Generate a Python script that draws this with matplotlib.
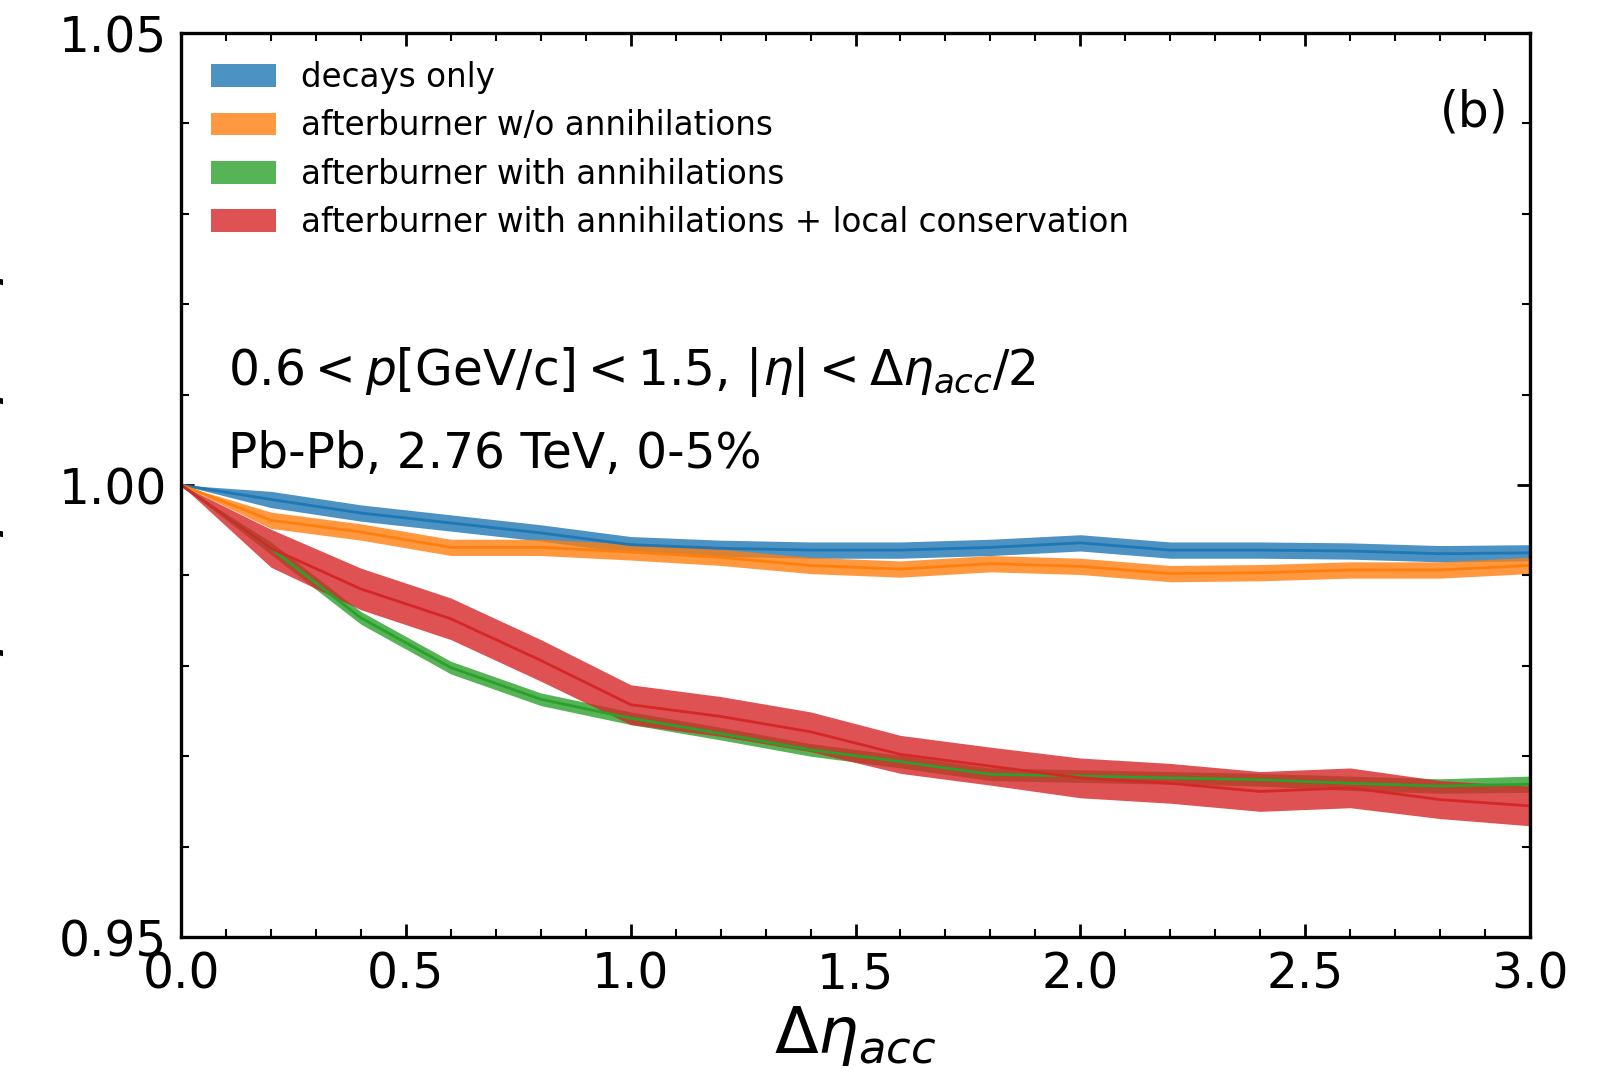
import numpy as np
import matplotlib.pyplot as plt
from matplotlib.ticker import MultipleLocator

# acceptance windows
eta_acc = [0.0, 0.2, 0.4, 0.6, 0.8, 1.0, 1.2, 1.4, 1.6, 1.8, 2.0, 2.2, 2.4, 2.6, 2.8, 3.0]

decays_only = [1.0, 0.9984, 0.9969, 0.9958, 0.9947, 0.9934, 0.9930, 0.9928,
               0.9928, 0.9931, 0.9936, 0.9928, 0.9928, 0.9927, 0.9924, 0.9925]
decays_only_err = [0.0, 0.0009, 0.0009, 0.0009, 0.0009, 0.0009, 0.0009, 0.0009,
                   0.0009, 0.0009, 0.0009, 0.0009, 0.0009, 0.0009, 0.0009, 0.0009]

no_annih = [1.0, 0.9961, 0.9948, 0.9931, 0.9931, 0.9926, 0.9920, 0.9911,
            0.9907, 0.9913, 0.9910, 0.9902, 0.9903, 0.9906, 0.9906, 0.9911]
no_annih_err = [0.0, 0.0009, 0.0009, 0.0009, 0.0009, 0.0009, 0.0009, 0.0009,
                0.0009, 0.0009, 0.0009, 0.0009, 0.0009, 0.0009, 0.0009, 0.0009]

with_annih = [1.0, 0.9930, 0.9853, 0.9798, 0.9763, 0.9742, 0.9725, 0.9707,
              0.9694, 0.9680, 0.9678, 0.9676, 0.9674, 0.9670, 0.9667, 0.9669]
with_annih_err = [0.0, 0.0007, 0.0007, 0.0007, 0.0007, 0.0007, 0.0007, 0.0007,
                  0.0007, 0.0007, 0.0007, 0.0007, 0.0007, 0.0008, 0.0008, 0.0009]

local_cons = [1.0, 0.9930, 0.9885, 0.9852, 0.9806, 0.9757, 0.9744, 0.9727,
              0.9702, 0.9689, 0.9676, 0.9670, 0.9661, 0.9665, 0.9652, 0.9645]
local_cons_err = [0.0, 0.0021, 0.0023, 0.0023, 0.0023, 0.0022, 0.0022, 0.0022,
                  0.0021, 0.0021, 0.0022, 0.0022, 0.0022, 0.0022, 0.0021, 0.0022]

labels = ['decays only', 'afterburner w/o annihilations',
          'afterburner with annihilations',
          'afterburner with annihilations + local conservation']
colors = ['tab:blue', 'tab:orange', 'tab:green', 'tab:red']

fig = plt.figure(figsize=(16.24, 10.79), dpi=100)
ax = fig.add_axes([0.1115, 0.1316, 0.8306, 0.8378])

x = np.array(eta_acc)
curves = [(decays_only, decays_only_err), (no_annih, no_annih_err),
          (with_annih, with_annih_err), (local_cons, local_cons_err)]

for (vals, err), col, lab in zip(curves, colors, labels):
    v = np.array(vals)
    e = np.array(err)
    ax.fill_between(x, v - e, v + e, color=col, alpha=0.8, lw=0, label=lab)
for (vals, err), col in zip(curves, colors):
    ax.plot(x, vals, color=col, lw=2)

ax.set_xlim(0, 3.0)
ax.set_ylim(0.95, 1.05)
ax.xaxis.set_major_locator(MultipleLocator(0.5))
ax.xaxis.set_minor_locator(MultipleLocator(0.1))
ax.yaxis.set_major_locator(MultipleLocator(0.05))
ax.yaxis.set_minor_locator(MultipleLocator(0.01))
ax.tick_params(which='both', direction='in', top=True, right=True, labelsize=35, pad=10)
ax.tick_params(which='major', length=9.5, width=2)
ax.tick_params(which='minor', length=5.5, width=1.5)
for s in ax.spines.values():
    s.set_linewidth(2.4)

ax.set_xlabel(r'$\Delta\eta_{acc}$', fontsize=46, labelpad=4)
# the big y label sits mostly outside the canvas, as in the original
ax.set_ylabel(r'$\kappa_2[p-\bar{p}]\,/\,\langle p+\bar{p}\rangle$', fontsize=46)
ax.yaxis.set_label_coords(-0.1295, 0.5)

ax.legend(loc='upper left', bbox_to_anchor=(0.022, 0.969), frameon=False,
          fontsize=23.5, borderpad=0, borderaxespad=0, handlelength=2.0,
          handletextpad=0.75, labelspacing=0.47)

ax.text(0.035, 0.6106, r'$0.6 < p[\mathrm{GeV/c}] < 1.5$, $|\eta| < \Delta\eta_{acc}/2$',
        transform=ax.transAxes, fontsize=35, va='baseline')
ax.text(0.035, 0.5188, 'Pb-Pb, 2.76 TeV, 0-5%', transform=ax.transAxes,
        fontsize=35, va='baseline')
ax.text(0.984, 0.9126, '(b)', transform=ax.transAxes, fontsize=35,
        ha='right', va='center')

fig.savefig('out.png', dpi=100)
